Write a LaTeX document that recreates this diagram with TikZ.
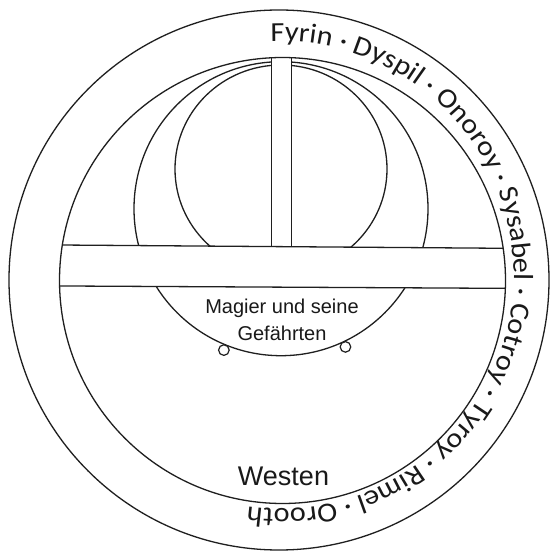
\documentclass[tikz,border=0pt]{standalone}
\usepackage{fontspec}
\setmainfont{Liberation Sans}
\newfontfamily\ringfont[FakeStretch=1.10]{Carlito}
\usetikzlibrary{decorations.text}
\begin{document}
\begin{tikzpicture}[x=1pt,y=1pt,
  line/.style={line width=1.3pt, draw=black!88},
  panel/.style={line, fill=white},
  wheel/.style={line, fill=white, line width=1.2pt},
  label/.style={inner sep=0pt, anchor=base, text=black!90}]
\useasboundingbox (0,0) rectangle (551,552);
\fill[white] (0,0) rectangle (551,552);
% rings of the ship
\draw[line] (281,343.3) circle[radius=147];
\draw[line] (281,383) ellipse[x radius=106, y radius=104];
% wheels
\draw[wheel] (281,343.3) ++(-112:152.5) circle[radius=5.3];
\draw[wheel] (281,343.3) ++(-65:152.5) circle[radius=5.3];
% mast and deck, clipped to inner circle
\begin{scope}
  \clip (282.5,271.5) circle[radius=223];
  \filldraw[panel] (271.5,305.4) rectangle (291.5,560);
  \filldraw[panel] (40,307.14) -- (530,303.52) -- (530,263.52) -- (40,266.14) -- cycle;
\end{scope}
% inner and outer circles
\draw[line] (282.5,271.5) circle[radius=223];
\draw[line] (279,272) circle[radius=270];
% labels
\node[label, font=\fontsize{20}{24}\selectfont] (magier) at (282,238) {Magier und seine};
\node[label, font=\fontsize{20}{24}\selectfont] (gefaehrten) at (282,211) {Gefährten};
\node[label, font=\fontsize{27}{32}\selectfont] (westen) at (283.5,66) {Westen};
% ring text
\path[shift={(280,277)}, decorate, decoration={text along path, text align=left,
  text={|\ringfont\fontsize{27.5}{33}\selectfont\color{black!90}|Fyrin · Dyspil · Onoroy · Sysabel · Cotroy · Tyroy · Rimel · Orooth}}]
  (92.3:234) arc[start angle=92.3, end angle=-120, radius=234];
\end{tikzpicture}
\end{document}
